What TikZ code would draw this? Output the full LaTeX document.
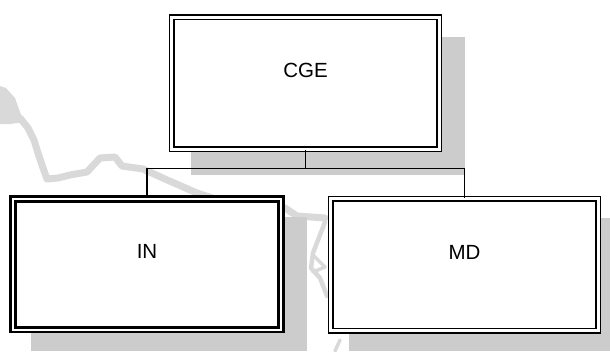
\documentclass[tikz,border=0pt]{standalone}
\usepackage{fontspec}
\setmainfont{Liberation Sans}
\usetikzlibrary{positioning, backgrounds}
\definecolor{mapgray}{HTML}{D9D9D9}
\definecolor{shadowgray}{HTML}{CCCCCC}

\begin{document}
\begin{tikzpicture}[
    x=1bp, y=-1bp,
    box/.style={rectangle, draw=black, fill=white, double=white, line width=1.5bp, double distance=3bp, minimum width=267.5bp, minimum height=132bp, align=center, text height=15bp, text depth=26bp, font=\fontsize{20.5bp}{24bp}\selectfont},
    heavybox/.style={box, line width=2.9bp, double distance=1.7bp, minimum width=267.5bp, minimum height=130.5bp},
    link/.style={draw=black, line width=1.4bp},
    shadow/.style={fill=shadowgray, draw=none},
    mapline/.style={draw=mapgray, line width=7bp, line join=round, line cap=round}
]
    \useasboundingbox (0,0) rectangle (610,351);

    \node[box] (cge) at (305.5,83) {CGE};
    \node[heavybox, below=48bp of cge, xshift=-158.5bp] (in) {IN};
    \node[box, below=48bp of cge, xshift=159bp] (md) {MD};
    \coordinate[below=19bp of cge] (bus);

    \draw[link] (cge.south) -- (bus);
    \draw[link] (in.north) |- (bus) -| (md.north);

    % Map and shadows
    \begin{scope}[on background layer]
        \fill[mapgray] (0,86) -- (6,88) -- (15,98) -- (20,112) -- (24,122) -- (10,124) -- (0,124) -- cycle;
        \draw[mapline] (20,118) -- (28,128) -- (34,140) -- (38,153) -- (43,168) -- (47,179) -- (58,178) -- (70,175) -- (87,172) -- (100,158) -- (115,157) -- (122,166) -- (143,169) -- (165,179) -- (197,193) -- (215,199) -- (240,199) -- (285,208) -- (297,216) -- (325,218);
        \draw[mapline, line width=4.5bp] (325,222) -- (313,253) -- (311,268) -- (320,278) -- (327,296);
        \draw[mapline, line width=3.5bp] (313,255) -- (325,267) -- (313,272);
        \draw[mapline, line width=3.5bp] (340,340) -- (335,351);
        \fill[shadow] (191,37) rectangle (465,175);
        \fill[shadow] (31,217) rectangle (307,351);
        \fill[shadow] (349,218) rectangle (610,351);
    \end{scope}
\end{tikzpicture}
\end{document}
